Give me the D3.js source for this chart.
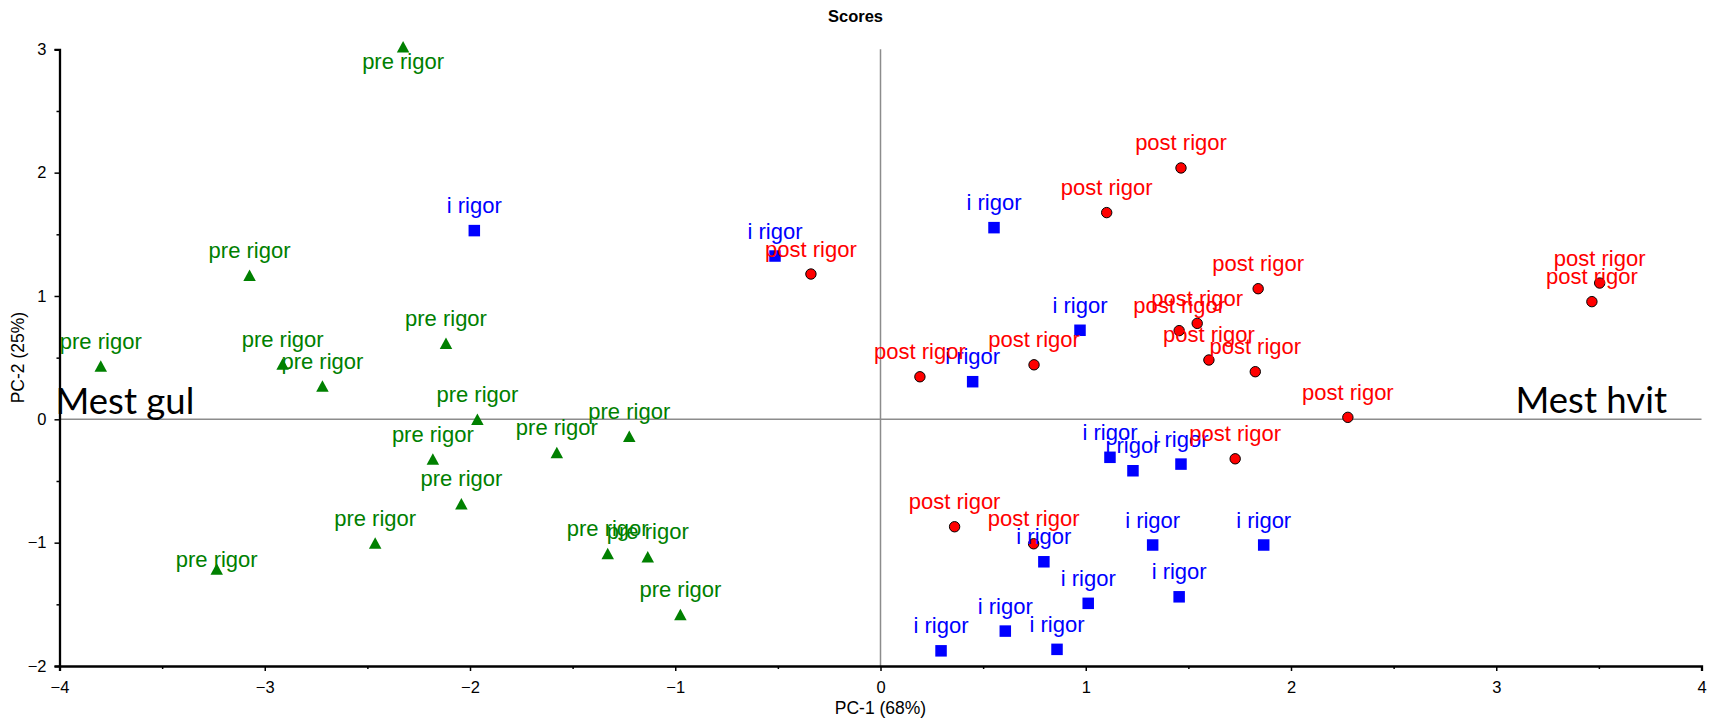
<!DOCTYPE html>
<html>
<head>
<meta charset="utf-8">
<script src="https://cdn.jsdelivr.net/npm/d3@7"></script>
<style>
  html, body { margin: 0; padding: 0; background: #fff; }
  svg { display: block; }
</style>
</head>
<body>
<svg id="chart" width="1711" height="722"></svg>
<script>
// ---------- data ----------
const categories = ["pre rigor", "i rigor", "post rigor"];

const preX  = [-2.326, -3.074, -2.117, -3.799, -2.913, -2.719, -1.964, -2.181, -1.577, -1.224, -2.042, -2.462, -3.234, -1.329, -1.134, -0.975];
const preY  = [ 3.020,  1.168,  0.616,  0.432,  0.448,  0.270,  0.000, -0.322, -0.268, -0.138, -0.684, -1.003, -1.214, -1.087, -1.114, -1.582];

const iX    = [-1.979, -0.514, 0.553, 0.972, 0.449, 1.118, 1.230, 1.464, 0.796, 1.326, 1.867, 1.012, 1.455, 0.608, 0.860, 0.295];
const iY    = [ 1.530,  1.324, 1.554, 0.722, 0.305, -0.308, -0.417, -0.363, -1.155, -1.019, -1.019, -1.492, -1.439, -1.717, -1.865, -1.877];

const postX = [-0.339, 1.102, 1.464, 0.192, 0.748, 1.840, 1.543, 1.455, 1.600, 1.826, 2.277, 3.504, 3.466, 1.728, 0.361, 0.746];
const postY = [ 1.178, 1.676, 2.038, 0.345, 0.442, 1.059, 0.778, 0.719, 0.481, 0.386, 0.016, 1.105, 0.954, -0.320, -0.871, -1.009];

// extra vertical nudge (px) for labels that were moved in the original
const preLabelNudge = [40, 0, 0, 0, 0, 0, 0, 0, 0, 0, 0, 0, 15, 0, 0, 0];

const xTicks = [-4, -3, -2, -1, 0, 1, 2, 3, 4];
const yTicks = [-2, -1, 0, 1, 2, 3];
const xMinor = [-3.5, -2.5, -1.5, -0.5, 0.5, 1.5, 2.5, 3.5];
const yMinor = [-1.5, -0.5, 0.5, 1.5, 2.5];

const title = "Scores";
const xTitle = "PC-1 (68%)";
const yTitle = "PC-2 (25%)";
const notes = ["Mest gul", "Mest hvit"];

// ---------- layout ----------
const svg = d3.select("#chart");
const W = 1711, H = 722;
const x = d3.scaleLinear().domain([-4, 4]).range([59.5, 1701.5]);
const y = d3.scaleLinear().domain([-2, 3]).range([666, 49.3]);

const colors = { "pre rigor": "#008000", "i rigor": "#0000ff", "post rigor": "#ff0000" };

// title
svg.append("text").attr("x", W / 2).attr("y", 22)
  .attr("text-anchor", "middle")
  .attr("font-family", "Liberation Sans, Arial, sans-serif")
  .attr("font-weight", "bold").attr("font-size", 16.5)
  .text(title);

// zero lines
svg.append("line").attr("x1", x(-4)).attr("x2", x(4)).attr("y1", y(0)).attr("y2", y(0))
  .attr("stroke", "#8c8c8c").attr("stroke-width", 1.5);
svg.append("line").attr("x1", x(0)).attr("x2", x(0)).attr("y1", y(-2)).attr("y2", y(3))
  .attr("stroke", "#8c8c8c").attr("stroke-width", 1.5);

// axes
const gx = svg.append("g").attr("transform", `translate(0,${y(-2)})`)
  .call(d3.axisBottom(x).tickValues(xTicks).tickSize(5).tickPadding(10).tickFormat(d3.format("d")));
const gxm = svg.append("g").attr("transform", `translate(0,${y(-2)})`)
  .call(d3.axisBottom(x).tickValues(xMinor).tickSize(3).tickFormat(""));
const gy = svg.append("g").attr("transform", `translate(${x(-4)},0)`)
  .call(d3.axisLeft(y).tickValues(yTicks).tickSize(5).tickPadding(8).tickFormat(d3.format("d")));
const gym = svg.append("g").attr("transform", `translate(${x(-4)},0)`)
  .call(d3.axisLeft(y).tickValues(yMinor).tickSize(3).tickFormat(""));

[gx, gxm, gy, gym].forEach(g => {
  g.select(".domain").attr("stroke", "#000").attr("stroke-width", 2.3);
  g.selectAll(".tick line").attr("stroke", "#000").attr("stroke-width", 1.5);
  g.selectAll(".tick text")
    .attr("font-family", "Liberation Sans, Arial, sans-serif")
    .attr("font-size", 16.5).attr("fill", "#000");
});
gxm.select(".domain").remove();
gym.select(".domain").remove();

// axis titles
svg.append("text").attr("x", x(0)).attr("y", 714)
  .attr("text-anchor", "middle")
  .attr("font-family", "Liberation Sans, Arial, sans-serif").attr("font-size", 17.5)
  .text(xTitle);
svg.append("text")
  .attr("transform", `translate(24,${(y(-2) + y(3)) / 2}) rotate(-90)`)
  .attr("text-anchor", "middle")
  .attr("font-family", "Liberation Sans, Arial, sans-serif").attr("font-size", 17.5)
  .text(yTitle);

// notes
svg.append("text").attr("x", x(-4) - 4).attr("y", y(0) - 5)
  .attr("font-family", "Lato, 'Noto Sans', sans-serif").attr("font-size", 36.5)
  .attr("fill", "#000").text(notes[0]);
svg.append("text").attr("x", 1667).attr("y", y(0) - 6)
  .attr("text-anchor", "end")
  .attr("font-family", "Lato, 'Noto Sans', sans-serif").attr("font-size", 36.5)
  .attr("fill", "#000").text(notes[1]);

// build point lists
const pre  = preX.map((v, i) => ({ cat: categories[0], x: v, y: preY[i], nudge: preLabelNudge[i] }));
const irig = iX.map((v, i) => ({ cat: categories[1], x: v, y: iY[i], nudge: 0 }));
const post = postX.map((v, i) => ({ cat: categories[2], x: v, y: postY[i], nudge: 0 }));

const gPts = svg.append("g");

// triangles (pre rigor)
const tw = 12.5, th = 11.5;
gPts.selectAll("path.tri").data(pre).join("path")
  .attr("class", "tri")
  .attr("d", d => {
    const cx = x(d.x), cy = y(d.y);
    return `M${cx},${cy - th / 2}L${cx + tw / 2},${cy + th / 2}L${cx - tw / 2},${cy + th / 2}Z`;
  })
  .attr("fill", colors["pre rigor"]);

// squares (i rigor)
const sq = 11.5;
gPts.selectAll("rect.sq").data(irig).join("rect")
  .attr("class", "sq")
  .attr("x", d => x(d.x) - sq / 2).attr("y", d => y(d.y) - sq / 2)
  .attr("width", sq).attr("height", sq)
  .attr("fill", colors["i rigor"]);

// circles (post rigor)
gPts.selectAll("circle.pt").data(post).join("circle")
  .attr("class", "pt")
  .attr("cx", d => x(d.x)).attr("cy", d => y(d.y)).attr("r", 5.2)
  .attr("fill", colors["post rigor"]).attr("stroke", "#000").attr("stroke-width", 1);

// labels
const all = pre.concat(irig, post);
svg.append("g").selectAll("text").data(all).join("text")
  .attr("x", d => x(d.x))
  .attr("y", d => y(d.y) - 17.5 + d.nudge)
  .attr("text-anchor", "middle")
  .attr("font-family", "Liberation Sans, Arial, sans-serif")
  .attr("font-size", 22)
  .attr("fill", d => colors[d.cat])
  .text(d => d.cat);
</script>
</body>
</html>
